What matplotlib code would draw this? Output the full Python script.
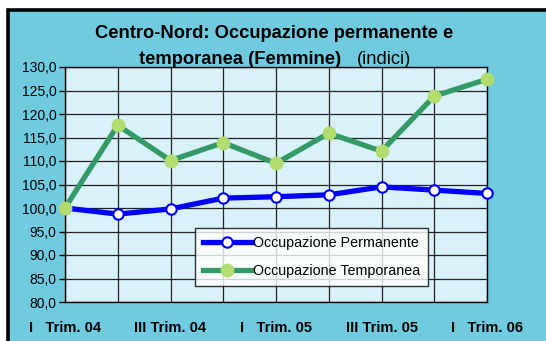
import matplotlib.pyplot as plt
from matplotlib.patches import Rectangle
from matplotlib.ticker import FuncFormatter, MultipleLocator

plt.rcParams['font.family'] = ['Liberation Sans', 'DejaVu Sans']

trimestri = ["I   Trim. 04", "II Trim. 04", "III Trim. 04", "IV Trim. 04",
             "I   Trim. 05", "II Trim. 05", "III Trim. 05", "IV Trim. 05",
             "I   Trim. 06"]
permanente = [100.0, 98.7, 99.8, 102.1, 102.4, 102.8, 104.5, 103.8, 103.1]
temporanea = [100.0, 117.6, 110.1, 113.9, 109.5, 115.9, 112.1, 123.8, 127.4]

W, H = 546, 341
fig = plt.figure(figsize=(W / 100, H / 100), dpi=100)
fig.patch.set_facecolor('white')

# sfondo del grafico con bordo nero
fig.patches.append(Rectangle((8 / W, -0.05), 1.2, 1 - 10 / H + 0.05,
                             transform=fig.transFigure, facecolor='#70CBE0',
                             edgecolor='black', linewidth=2.6, zorder=-10))

ax = fig.add_axes([65 / W, (H - 302) / H, 422 / W, 235 / H])
ax.set_facecolor('#D9F1F8')

x = list(range(len(trimestri)))
ax.plot(x, permanente, color='#0000FF', lw=3.8, marker='o', ms=7.5,
        mfc='white', mec='#0000FF', mew=1.5, label='Occupazione Permanente',
        zorder=3, clip_on=False)
ax.plot(x, temporanea, color='#339966', lw=3.8, marker='o', ms=9,
        mfc='#B0DC70', mec='#B0DC70', label='Occupazione Temporanea',
        zorder=3, clip_on=False)

ax.set_xlim(0, len(trimestri) - 1)
ax.set_ylim(80, 130)
ax.yaxis.set_major_locator(MultipleLocator(5))
ax.yaxis.set_major_formatter(FuncFormatter(lambda v, p: f"{v:.1f}".replace('.', ',')))
ax.set_xticks(x)
ax.set_xticklabels([t if i % 2 == 0 else '' for i, t in enumerate(trimestri)],
                   fontweight='bold', fontsize=10.5)
ax.tick_params(axis='x', length=0, pad=14)
ax.tick_params(axis='y', length=4, width=1, labelsize=10, pad=2)
ax.grid(True, color='#222222', lw=0.9)
ax.set_axisbelow(True)
for s in ax.spines.values():
    s.set_color('black')
    s.set_linewidth(1)

leg = ax.legend(loc='upper left', bbox_to_anchor=((195 - 65) / 422, (302 - 228) / 235),
                frameon=True, fancybox=False, fontsize=10.3, handlelength=3.4,
                handletextpad=0.1, borderpad=0.55, labelspacing=1.0,
                borderaxespad=0)
leg.get_frame().set_edgecolor('black')
leg.get_frame().set_linewidth(1)

fig.text(274 / W, 1 - 33 / H, "Centro-Nord: Occupazione permanente e",
         ha='center', va='center', fontsize=13.2, fontweight='bold')
fig.text(341 / W, 1 - 59 / H, "temporanea (Femmine)",
         ha='right', va='center', fontsize=13.2, fontweight='bold')
fig.text(357 / W, 1 - 59 / H, "(indici)", ha='left', va='center', fontsize=13.2)

fig.savefig('out.png', dpi=100)
